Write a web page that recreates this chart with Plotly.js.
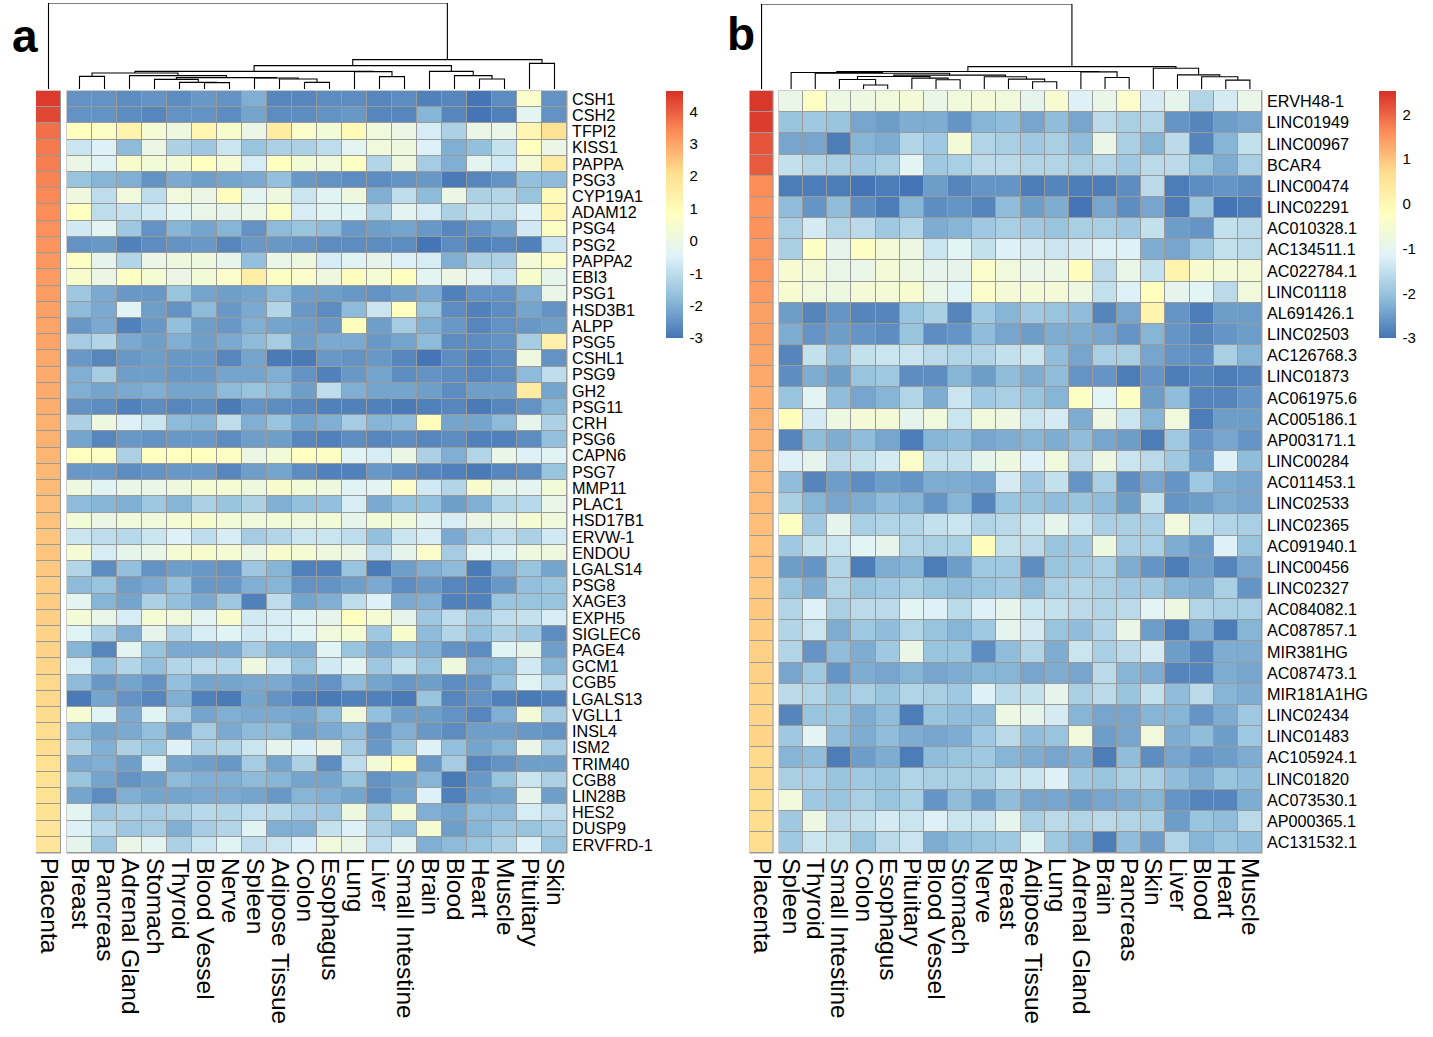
<!DOCTYPE html>
<html><head><meta charset="utf-8">
<script src="https://cdn.plot.ly/plotly-3.0.1.min.js"></script>
<style>html,body{margin:0;padding:0;background:#fff}#chart{width:1433px;height:1037px}</style>
</head><body><div id="chart"></div>
<script>
// ---------------- DATA ----------------
const tissuesA = ['Breast','Pancreas','Adrenal Gland','Stomach','Thyroid','Blood Vessel','Nerve','Spleen','Adipose Tissue','Colon','Esophagus','Lung','Liver','Small Intestine','Brain','Blood','Heart','Muscle','Pituitary','Skin'];
const genesA = ['CSH1','CSH2','TFPI2','KISS1','PAPPA','PSG3','CYP19A1','ADAM12','PSG4','PSG2','PAPPA2','EBI3','PSG1','HSD3B1','ALPP','PSG5','CSHL1','PSG9','GH2','PSG11','CRH','PSG6','CAPN6','PSG7','MMP11','PLAC1','HSD17B1','ERVW-1','ENDOU','LGALS14','PSG8','XAGE3','EXPH5','SIGLEC6','PAGE4','GCM1','CGB5','LGALS13','VGLL1','INSL4','ISM2','TRIM40','CGB8','LIN28B','HES2','DUSP9','ERVFRD-1'];
const placentaA = [4.5,4.3,3.75,3.6,3.55,3.5,3.4,3.35,3.3,3.25,3.2,3.15,3.1,3.05,3.0,3.0,2.95,2.9,2.9,2.85,2.8,2.8,2.75,2.7,2.65,2.6,2.55,2.5,2.5,2.45,2.4,2.4,2.35,2.3,2.3,2.25,2.2,2.2,2.15,2.1,2.1,2.05,2.0,2.0,1.95,1.9,1.9];
const valuesA = [
[-2.5,-2.5,-2.6,-2.5,-2.6,-2.4,-2.5,-2.0,-2.7,-2.7,-2.6,-2.6,-2.7,-2.6,-2.8,-2.7,-3.0,-2.6,0.6,-2.5],
[-2.5,-2.5,-2.6,-2.7,-2.5,-2.5,-2.6,-2.2,-2.6,-2.6,-2.5,-2.4,-2.7,-2.7,-1.9,-2.7,-3.0,-2.8,-0.3,-2.5],
[0.8,0.7,1.3,0.4,0.1,1.2,0.5,0.0,1.6,0.6,0.3,1.0,0.2,0.0,-0.6,-1.3,0.0,-0.1,1.2,2.0],
[-0.8,-0.5,-1.8,0.0,-1.3,-1.5,-0.8,-1.6,-1.3,-1.3,-1.0,-0.3,0.2,0.1,-0.5,-2.0,-1.7,-0.9,0.8,0.0],
[0.0,-0.4,0.5,0.3,0.3,0.8,0.4,-0.6,0.8,0.3,0.2,0.7,-1.2,0.1,-1.4,-2.0,-0.3,-0.7,0.3,1.6],
[-1.6,-1.9,-2.0,-2.5,-2.1,-2.3,-2.2,-2.1,-1.7,-2.4,-2.5,-2.6,-2.6,-2.5,-2.4,-2.9,-2.7,-2.5,-1.7,-1.8],
[0.1,-1.0,0.2,-1.0,0.2,0.0,0.9,-0.3,0.1,-0.8,-0.4,0.1,-2.0,-1.0,-1.8,0.0,-1.3,-1.2,-1.6,1.0],
[0.8,-1.0,-0.9,-0.7,-0.3,-0.1,-0.2,-0.1,0.7,-0.6,-0.4,-0.4,-1.3,-0.3,-0.6,-1.3,-0.9,-1.0,-0.5,1.2],
[-0.7,-0.3,-1.5,-2.5,-1.9,-2.2,-1.9,-2.5,-1.8,-1.6,-1.8,-2.4,-2.3,-2.2,-2.4,-2.7,-2.5,-2.2,-0.7,0.7],
[-2.5,-2.4,-2.8,-2.6,-2.5,-2.4,-2.7,-2.4,-2.4,-2.5,-2.6,-2.6,-2.6,-2.6,-3.0,-2.6,-2.8,-2.7,-2.8,-0.8],
[0.7,-0.2,-1.2,0.0,0.1,0.1,-0.2,-1.7,-0.1,0.1,-0.6,-0.4,-0.2,-0.5,-0.6,-2.0,-1.3,-1.3,0.3,0.6],
[0.5,0.0,0.7,0.4,0.0,0.3,0.6,1.5,0.7,0.6,0.1,0.9,0.4,0.8,-0.3,0.0,-0.3,-0.8,0.5,-0.2],
[-1.5,-2.1,-2.4,-2.4,-1.6,-2.2,-2.3,-2.2,-1.8,-2.3,-2.3,-2.4,-2.5,-2.3,-2.1,-2.8,-2.5,-2.5,-2.0,-0.1],
[-1.8,-2.1,-0.4,-2.3,-2.5,-1.8,-2.4,-2.1,-1.2,-2.4,-2.6,-1.8,-0.8,0.8,-1.6,-2.6,-2.8,-2.6,-2.2,-2.5],
[-2.4,-2.1,-2.8,-2.4,-1.7,-2.3,-2.4,-2.0,-2.2,-2.3,-2.4,0.9,-2.3,-1.4,-2.0,-2.4,-2.7,-2.5,-2.4,-2.3],
[-1.4,-1.2,-2.1,-2.3,-2.0,-2.3,-2.1,-1.8,-1.4,-2.3,-2.1,-2.1,-2.4,-2.2,-1.8,-2.6,-2.6,-2.5,-1.4,1.4],
[-2.4,-2.7,-2.4,-2.3,-2.4,-2.4,-2.7,-2.2,-2.9,-2.9,-2.4,-2.5,-2.4,-2.7,-3.0,-2.6,-2.8,-2.6,0.1,-2.5],
[-2.0,-1.4,-2.3,-2.3,-2.4,-2.4,-2.2,-2.2,-2.0,-2.5,-2.8,-2.4,-2.2,-2.6,-2.5,-2.6,-2.7,-2.6,-1.8,-1.0],
[-2.0,-2.2,-2.1,-2.0,-2.2,-2.2,-1.8,-1.6,-1.8,-2.3,-1.0,-2.0,-2.2,-2.2,-2.3,-2.6,-2.3,-2.3,1.6,-2.2],
[-2.5,-2.6,-2.8,-2.6,-2.7,-2.6,-2.9,-2.5,-2.6,-2.7,-2.8,-2.8,-2.8,-2.9,-2.8,-2.7,-2.9,-2.7,-2.5,-1.9],
[-1.3,0.1,-0.5,-0.8,-1.8,-1.9,-1.0,-2.0,-1.6,-2.2,-2.0,-1.4,-1.9,-1.8,0.9,-2.2,-2.2,-1.8,-0.2,-1.3],
[-2.2,-2.7,-2.4,-2.5,-2.4,-2.4,-2.6,-2.3,-2.3,-2.7,-2.8,-2.6,-2.7,-2.6,-2.7,-2.6,-2.8,-2.8,-2.6,-1.7],
[0.8,0.7,-1.3,0.8,0.8,0.8,0.7,0.0,0.3,0.8,0.7,-0.4,-0.6,0.0,-1.3,-2.0,-1.2,-0.1,-0.5,-0.4],
[-2.4,-2.4,-2.6,-2.5,-2.4,-2.4,-2.7,-2.3,-2.2,-2.6,-2.8,-2.8,-2.4,-2.6,-2.7,-2.8,-2.9,-2.7,-2.6,-1.6],
[0.1,-0.4,-0.1,-0.1,0.1,0.4,0.4,0.1,0.5,0.3,0.1,-0.4,-0.3,0.6,-0.7,-1.2,0.5,-0.2,-0.3,0.3],
[-1.8,-1.9,-2.0,-1.5,-1.9,-1.3,-1.6,-1.3,-2.0,-1.7,-1.7,-0.6,-2.1,-1.7,-1.7,-2.3,-2.0,-1.2,-1.1,-0.1],
[0.3,0.0,0.2,0.2,0.4,0.5,0.3,0.2,0.3,0.2,0.3,-0.2,0.3,0.2,-0.3,-0.6,0.0,0.0,0.4,0.2],
[-0.8,-1.0,-1.1,-0.8,-0.5,-1.0,-0.6,-1.4,-1.2,-0.8,-0.8,-1.0,-1.7,-0.8,-0.6,-2.1,-1.4,-1.0,-1.3,-0.7],
[0.4,-0.6,-0.2,-0.1,0.4,0.5,0.4,0.0,0.5,0.4,0.1,0.0,-1.0,-0.2,0.6,-1.4,-0.3,-0.4,0.1,0.1],
[-1.2,-2.6,-1.7,-2.5,-2.3,-2.4,-2.5,-1.5,-1.9,-2.8,-2.8,-1.6,-2.9,-2.3,-2.0,-1.8,-2.9,-2.0,-1.6,-2.2],
[-1.8,-1.6,-2.3,-2.1,-1.7,-2.4,-2.4,-2.0,-1.9,-2.5,-2.5,-2.3,-2.1,-2.6,-2.4,-2.7,-2.8,-2.4,-1.7,-1.6],
[-0.3,-1.9,-2.2,-1.3,-1.7,-2.1,-1.5,-2.8,-1.0,-2.2,-2.0,-1.0,-0.5,-2.1,-2.0,-2.8,-2.8,-1.6,-1.6,-1.6],
[0.3,-0.1,-0.6,0.4,0.2,-0.3,0.5,-0.7,-0.6,-0.4,-0.2,0.8,0.4,-0.2,-1.5,-1.0,-1.5,-1.0,-0.9,-0.6],
[-0.4,-1.3,-2.0,-0.2,-1.2,-0.6,-0.4,-0.7,-0.6,-0.4,0.2,0.4,-1.5,0.5,-1.8,-1.2,-1.7,-1.3,-1.5,-2.6],
[-1.9,-2.7,-0.3,-1.6,-2.1,-2.1,-2.1,-1.4,-1.9,-2.0,-0.4,-1.6,-2.1,-1.8,-2.0,-2.5,-2.6,-0.4,-0.2,-2.3],
[-0.6,-1.7,-1.2,-1.7,-1.2,-1.0,-1.1,0.1,-0.7,-1.6,-0.7,-0.3,-1.5,-0.9,-1.6,0.1,-2.0,-1.9,-0.7,-1.9],
[-1.8,-2.4,-2.2,-2.5,-1.7,-2.2,-2.2,-2.1,-2.1,-2.4,-2.5,-1.8,-2.2,-2.4,-2.3,-2.6,-2.5,-1.7,-0.4,-1.1],
[-2.9,-2.2,-2.5,-2.7,-2.0,-2.8,-2.9,-2.2,-2.5,-2.8,-2.9,-2.8,-2.8,-2.9,-1.6,-2.7,-2.5,-2.8,-2.9,-2.8],
[0.4,-0.4,-2.1,-0.4,-1.4,-2.2,-2.0,-2.1,-2.1,-2.2,-1.8,0.2,-1.7,-2.3,-2.3,-2.5,-2.7,-2.0,0.3,-1.4],
[-1.8,-2.2,-2.1,-1.7,-2.3,-1.4,-2.1,-1.8,-1.8,-2.3,-2.1,-1.8,-2.5,-2.0,-2.4,-2.6,-2.3,-2.3,-2.4,-2.5],
[-1.3,-2.0,-1.3,-1.6,-0.5,-1.3,-1.2,-0.8,-0.2,-0.5,0.0,-1.4,-2.4,-1.6,-0.5,-1.7,-2.2,-1.9,-0.1,-1.4],
[-2.1,-2.0,-2.3,-0.5,-2.2,-2.3,-2.4,-1.4,-2.2,-1.3,-2.6,-1.0,0.3,0.9,-2.4,-1.4,-2.7,-2.5,-2.3,-2.3],
[-1.6,-2.2,-2.5,-2.3,-1.8,-2.0,-2.0,-1.8,-1.9,-2.2,-2.2,-1.6,-2.5,-2.3,-1.9,-2.9,-2.4,-1.6,-0.8,-1.3],
[-2.2,-2.6,-2.0,-2.2,-2.2,-2.1,-2.1,-2.2,-2.4,-1.9,-2.0,-2.2,-2.6,-2.2,-0.5,-2.8,-2.3,-2.2,-0.2,-2.3],
[-0.3,-1.5,-1.3,-1.4,-1.3,-1.1,-1.2,-1.0,-1.1,-1.4,-1.5,0.1,-1.5,0.3,-2.0,-2.2,-1.8,-1.8,-0.6,-1.0],
[-0.5,-1.1,-1.5,-1.4,-2.0,-1.4,-1.2,-0.4,-2.0,-2.0,-0.9,-0.5,-1.3,-1.8,0.4,-2.3,-1.9,-1.5,-1.6,-1.4],
[-0.2,-1.5,-0.1,-0.3,-1.3,-0.8,-0.4,-1.0,-0.8,-0.5,0.2,-0.1,-1.0,-0.3,-2.0,-1.8,-1.6,-1.3,-0.5,-1.6]
];
// dendrogram of panel a: [left, right, height]; strings are leaves, numbers refer to earlier merges
const dendroA = [
['Blood Vessel','Nerve',19],['Thyroid',0,20],['Stomach',1,29],['Colon','Esophagus',20],['Adipose Tissue',3,30],
['Spleen',4,33],[2,5,34],['Adrenal Gland',6,40],['Breast','Pancreas',38],[8,7,48],
['Liver','Small Intestine',37],['Lung',10,52],[9,11,53],['Heart','Muscle',30],['Blood',13,40],
['Brain',14,53],[12,15,70],['Pituitary','Skin',77],[16,17,88],['Placenta',18,258]
];

const tissuesB = ['Spleen','Thyroid','Small Intestine','Colon','Esophagus','Pituitary','Blood Vessel','Stomach','Nerve','Breast','Adipose Tissue','Lung','Adrenal Gland','Brain','Pancreas','Skin','Liver','Blood','Heart','Muscle'];
const genesB = ['ERVH48-1','LINC01949','LINC00967','BCAR4','LINC00474','LINC02291','AC010328.1','AC134511.1','AC022784.1','LINC01118','AL691426.1','LINC02503','AC126768.3','LINC01873','AC061975.6','AC005186.1','AP003171.1','LINC00284','AC011453.1','LINC02533','LINC02365','AC091940.1','LINC00456','LINC02327','AC084082.1','AC087857.1','MIR381HG','AC087473.1','MIR181A1HG','LINC02434','LINC01483','AC105924.1','LINC01820','AC073530.1','AP000365.1','AC131532.1'];
const placentaB = [2.45,2.4,2.15,2.1,1.6,1.55,1.55,1.5,1.5,1.45,1.4,1.4,1.35,1.3,1.25,1.2,1.2,1.15,1.1,1.1,1.05,1.0,1.0,0.95,0.95,0.9,0.85,0.85,0.8,0.8,0.8,0.75,0.75,0.7,0.7,0.7];
const valuesB = [
[-0.9,-0.3,-0.8,-0.8,-0.7,-0.6,-0.9,-0.7,-0.6,-0.7,-1.0,-0.5,-1.2,-0.9,-0.4,-1.3,-1.0,-1.7,-1.3,-0.9],
[-2.0,-1.9,-2.0,-2.4,-2.5,-2.3,-2.3,-2.6,-2.2,-2.1,-2.4,-2.1,-2.4,-1.6,-1.8,-1.7,-2.6,-2.8,-2.5,-2.4],
[-2.4,-2.4,-2.9,-2.2,-2.3,-1.7,-1.9,-0.6,-1.7,-1.8,-1.9,-1.8,-2.1,-0.9,-1.8,-2.2,-1.6,-2.8,-2.2,-1.5],
[-1.5,-1.7,-1.8,-1.9,-1.8,-1.1,-1.9,-1.8,-1.6,-1.6,-1.7,-1.7,-1.8,-1.7,-1.9,-1.6,-1.6,-2.0,-2.3,-1.8],
[-2.9,-2.9,-2.9,-3.0,-2.9,-3.0,-2.5,-2.8,-2.6,-2.6,-2.9,-2.8,-2.9,-2.9,-2.7,-1.6,-2.9,-2.7,-2.6,-2.7],
[-2.1,-2.6,-2.1,-2.7,-2.9,-2.2,-2.7,-2.6,-2.8,-2.1,-2.5,-2.3,-3.0,-2.4,-2.7,-2.4,-2.9,-2.0,-3.0,-2.9],
[-1.8,-1.3,-1.7,-1.6,-1.9,-1.7,-2.3,-2.2,-1.9,-1.8,-1.9,-2.0,-1.8,-1.8,-1.9,-1.5,-2.5,-2.6,-1.5,-1.6],
[-1.8,-0.3,-1.0,-0.3,-0.6,-0.8,-1.4,-1.1,-1.5,-1.2,-1.3,-1.4,-1.3,-1.2,-1.2,-2.3,-2.4,-1.9,-1.5,-1.6],
[-0.5,-0.6,-0.9,-0.9,-0.6,-0.8,-1.0,-1.0,-0.4,-0.7,-0.9,-0.8,-0.2,-1.6,-0.9,-1.5,0.1,-0.5,-0.6,-0.6],
[-0.5,-0.7,-0.8,-0.6,-0.6,-0.5,-0.9,-1.1,-0.4,-0.6,-0.6,-0.6,-0.8,-1.5,-1.2,-0.2,-1.0,-1.1,-1.6,-0.7],
[-2.5,-2.8,-2.6,-2.8,-2.8,-2.0,-1.8,-2.8,-1.9,-2.2,-1.9,-2.0,-2.1,-2.8,-2.4,0.1,-2.6,-2.9,-2.5,-2.5],
[-2.3,-2.6,-2.5,-2.6,-2.7,-2.0,-2.7,-2.6,-2.1,-2.4,-2.5,-2.3,-2.3,-2.4,-2.6,-2.2,-2.6,-2.8,-2.6,-2.5],
[-2.8,-1.5,-2.1,-1.5,-1.4,-1.4,-1.6,-1.7,-1.7,-1.5,-1.4,-2.1,-2.4,-1.8,-1.8,-2.4,-2.6,-2.7,-1.8,-2.2],
[-2.7,-2.3,-2.5,-2.0,-1.9,-2.7,-2.7,-2.2,-2.5,-2.1,-2.3,-2.1,-2.6,-2.6,-2.9,-2.6,-2.9,-2.8,-2.9,-2.8],
[-2.0,-1.1,-2.1,-2.4,-2.2,-1.7,-2.3,-1.4,-1.9,-1.8,-2.0,-2.2,-0.3,-1.1,-0.3,-2.5,-2.1,-2.8,-2.8,-2.6],
[-0.2,-1.3,-0.8,-0.6,-0.6,-1.0,-0.7,-1.4,-0.7,-0.8,-1.4,-1.3,-2.3,-0.8,-1.4,-2.2,-0.7,-2.9,-2.5,-2.5],
[-2.8,-2.1,-2.3,-2.1,-2.4,-2.9,-2.2,-2.1,-2.4,-2.3,-2.2,-2.3,-2.1,-2.4,-2.5,-2.9,-1.9,-2.6,-2.4,-2.6],
[-1.2,-1.0,-1.6,-1.5,-1.3,-0.4,-1.5,-1.5,-1.0,-0.8,-1.2,-0.7,-1.6,-0.8,-1.4,-1.6,-1.9,-2.5,-1.2,-2.1],
[-2.1,-2.8,-2.5,-2.7,-2.5,-2.6,-2.3,-2.3,-2.4,-1.3,-1.9,-1.5,-2.6,-1.8,-2.7,-2.4,-2.6,-1.9,-2.3,-2.4],
[-1.8,-2.2,-2.4,-2.3,-2.1,-2.2,-2.6,-2.2,-2.8,-2.0,-2.0,-2.1,-2.0,-2.1,-2.5,-1.5,-2.6,-2.5,-2.3,-2.4],
[-0.3,-1.9,-1.0,-1.8,-1.7,-1.7,-1.5,-1.4,-1.7,-1.6,-1.4,-1.0,-1.4,-1.8,-1.8,-1.8,-0.7,-1.5,-1.7,-1.8],
[-1.9,-1.5,-1.4,-1.1,-1.0,-1.7,-1.8,-1.8,-0.2,-1.5,-1.6,-2.0,-1.9,-0.8,-1.8,-1.8,-2.3,-2.5,-1.2,-2.0],
[-2.5,-2.6,-1.7,-2.9,-2.3,-2.2,-2.9,-2.5,-1.9,-1.9,-2.7,-2.0,-1.9,-1.8,-2.3,-2.6,-2.9,-2.5,-2.8,-2.4],
[-2.0,-2.3,-1.7,-2.0,-1.9,-1.8,-2.0,-2.1,-2.0,-1.9,-2.2,-1.8,-1.7,-1.8,-1.9,-1.9,-2.2,-2.3,-1.8,-2.6],
[-1.7,-1.2,-1.8,-1.6,-1.6,-1.1,-1.2,-1.6,-1.2,-1.0,-1.4,-1.5,-1.6,-1.7,-1.6,-1.1,-0.8,-1.7,-1.8,-1.8],
[-1.7,-1.4,-2.3,-1.9,-2.1,-1.7,-2.0,-2.2,-1.9,-1.0,-1.3,-2.0,-2.1,-1.7,-0.9,-2.5,-2.9,-2.3,-2.9,-2.2],
[-1.7,-2.6,-2.1,-2.3,-1.9,-0.9,-2.0,-2.0,-2.7,-2.1,-1.7,-2.3,-1.4,-1.8,-1.6,-1.3,-2.5,-2.8,-2.3,-2.3],
[-2.4,-1.9,-2.6,-2.3,-2.4,-2.2,-2.4,-2.3,-2.2,-2.2,-2.4,-2.3,-2.4,-1.6,-2.2,-2.3,-2.8,-2.8,-2.3,-2.4],
[-1.6,-1.7,-2.0,-1.8,-2.0,-1.7,-1.8,-1.9,-1.2,-1.6,-1.5,-1.0,-1.8,-1.6,-2.0,-1.5,-2.1,-1.6,-2.2,-2.3],
[-2.8,-2.0,-2.0,-2.3,-2.1,-2.9,-2.0,-2.1,-2.1,-0.8,-1.0,-1.3,-2.2,-2.4,-2.4,-2.2,-2.2,-2.6,-2.3,-1.9],
[-1.9,-1.1,-2.1,-2.3,-2.1,-2.3,-2.4,-2.3,-1.9,-1.6,-2.1,-2.0,-0.7,-2.5,-2.4,-0.7,-2.3,-2.1,-2.5,-1.9],
[-2.2,-2.1,-2.9,-2.5,-2.3,-2.9,-2.1,-2.0,-1.9,-2.2,-2.3,-2.4,-2.3,-2.9,-2.1,-2.7,-2.4,-2.6,-2.5,-2.3],
[-1.8,-1.8,-2.0,-1.9,-2.0,-1.7,-1.8,-1.8,-1.8,-1.5,-1.4,-1.2,-1.9,-2.0,-1.8,-1.8,-2.1,-2.3,-2.0,-2.1],
[-0.7,-1.9,-2.0,-1.8,-2.0,-1.8,-2.6,-2.1,-2.5,-2.1,-2.4,-2.4,-2.5,-2.4,-2.3,-2.2,-2.6,-2.8,-2.8,-2.3],
[-1.9,-0.8,-1.6,-1.5,-1.3,-1.4,-1.2,-1.4,-1.4,-1.0,-1.8,-1.6,-1.7,-1.6,-1.7,-1.8,-2.5,-2.0,-2.1,-1.6],
[-1.9,-1.4,-1.5,-2.0,-1.6,-1.4,-2.3,-2.1,-2.0,-1.9,-1.1,-1.9,-2.2,-2.9,-2.1,-2.5,-1.7,-2.2,-2.0,-2.1]
];
const dendroB = [
['Colon','Esophagus',12],['Small Intestine',0,29],['Blood Vessel','Stomach',28],['Pituitary',2,33],[1,3,38],
['Adipose Tissue','Lung',22],['Breast',5,30],['Nerve',6,37],[4,7,42],['Thyroid',8,48],
['Spleen',9,50],['Brain','Pancreas',35],['Adrenal Gland',11,52],[10,12,53],['Heart','Muscle',27],
['Blood',14,37],['Liver',15,43],['Skin',16,63],[13,17,68],['Placenta',18,258]
];
const ticksA = [-3,-2,-1,0,1,2,3,4];
const ticksB = [-3,-2,-1,0,1,2];

// ---------------- STYLE / LAYOUT ----------------
const W = 1433, H = 1037;
const FONT = 'Liberation Sans, Arial, Helvetica, sans-serif';
const px = x => x / W, py = y => 1 - y / H;
const scale = [[0,'#4575B4'],[1/6,'#91BFDB'],[2/6,'#E0F3F8'],[3/6,'#FFFFBF'],[4/6,'#FEE090'],[5/6,'#FC8D59'],[1,'#D73027']];
const TOP = 91, BOT = 853;

function dendro(merges, leafPos){
  const nx = [], nh = [], xs = [], ys = [];
  const info = c => typeof c === 'string' ? [leafPos[c], 0] : [nx[c], nh[c]];
  merges.forEach((m, i) => {
    const [xl, hl] = info(m[0]), [xr, hr] = info(m[1]), h = m[2];
    xs.push(xl, xl, xr, xr, null); ys.push(hl, h, h, hr, null);
    nx[i] = (xl + xr) / 2; nh[i] = h;
  });
  return {xs, ys};
}

// panel geometry (pixels)
const G = {
  a: {pl: [36, 61], main: [67, 567], dTop: 3, cb: 666},
  b: {pl: [749.5, 773.6], main: [779, 1262], dTop: 4, cb: 1379}
};
function leafPositions(tissues, g){
  const cw = (g.main[1] - g.main[0]) / tissues.length;
  const gap = (g.main[0] - g.pl[1]) / cw;
  const pos = {'Placenta': 0};
  tissues.forEach((t, i) => pos[t] = 1 + gap + i);
  return {pos, hi: 0.5 + gap + tissues.length};
}

const traces = [];
const layout = {
  width: W, height: H, margin: {l:0, r:0, t:0, b:0},
  paper_bgcolor: '#fff', plot_bgcolor: '#fff', showlegend: false,
  font: {family: FONT, color: '#000'},
  shapes: [], annotations: []
};

function panel(key, idx, tissues, genes, placenta, values, merges, ticks, cmax, label, labelX, labelY){
  const g = G[key];
  const ax = n => (n === 1 ? '' : String(n));
  const i1 = idx, i2 = idx + 1, i3 = idx + 2;
  const ca = key === 'a' ? 'coloraxis' : 'coloraxis2';
  traces.push({type:'heatmap', x:['Placenta'], y:genes, z:placenta.map(v => [v]), coloraxis:ca,
    xaxis:'x'+ax(i1), yaxis:'y'+ax(i1), xgap:1, ygap:1, hoverinfo:'skip'});
  traces.push({type:'heatmap', x:tissues, y:genes, z:values, coloraxis:ca,
    xaxis:'x'+ax(i2), yaxis:'y'+ax(i2), xgap:1, ygap:1, hoverinfo:'skip'});
  const lp = leafPositions(tissues, g);
  const d = dendro(merges, lp.pos);
  traces.push({type:'scatter', mode:'lines', x:d.xs, y:d.ys, xaxis:'x'+ax(i3), yaxis:'y'+ax(i3),
    line:{color:'#000', width:1.1}, hoverinfo:'skip', connectgaps:false});
  const yd = [py(BOT), py(TOP)];
  const common = {showgrid:false, zeroline:false, showline:false, ticks:'', automargin:false, fixedrange:true};
  const tickX = {...common, side:'bottom', tickangle:90, ticklabelstandoff:4,
    tickfont:{size:24.5, family:FONT, color:'#000'}};
  layout['xaxis'+ax(i1)] = {...tickX, domain:[px(g.pl[0]), px(g.pl[1])], anchor:'y'+ax(i1),
    tickmode:'array', tickvals:['Placenta'], ticktext:['Placenta']};
  layout['yaxis'+ax(i1)] = {...common, domain:yd, anchor:'x'+ax(i1), autorange:'reversed', showticklabels:false};
  layout['xaxis'+ax(i2)] = {...tickX, domain:[px(g.main[0]), px(g.main[1])], anchor:'y'+ax(i2),
    tickmode:'array', tickvals:tissues, ticktext:tissues};
  layout['yaxis'+ax(i2)] = {...common, domain:yd, anchor:'x'+ax(i2), autorange:'reversed', side:'right',
    tickmode:'array', tickvals:genes, ticktext:genes, ticklabelstandoff:4,
    tickfont:{size:16.2, family:FONT, color:'#000'}};
  layout['xaxis'+ax(i3)] = {...common, domain:[px(g.pl[0]), px(g.main[1])], anchor:'y'+ax(i3),
    range:[-0.5, lp.hi], showticklabels:false};
  layout['yaxis'+ax(i3)] = {...common, domain:[py(TOP - 2), py(g.dTop)], anchor:'x'+ax(i3),
    range:[0, merges[merges.length-1][2]], showticklabels:false};
  // grey cell borders behind heatmaps
  [i1, i2].forEach(i => layout.shapes.push({type:'rect', layer:'below', xref:'x'+ax(i)+' domain', yref:'y'+ax(i)+' domain',
    x0:-0.001, x1:1.001, y0:-0.0008, y1:1.0008, fillcolor:'#9a9a9a', line:{width:0}}));
  layout[ca] = {cmin:-3.0, cmax:cmax, colorscale:scale,
    colorbar:{x:px(g.cb), xanchor:'left', xref:'paper', y:py(TOP), yanchor:'top', yref:'paper',
      len:247, lenmode:'pixels', thickness:17, thicknessmode:'pixels', outlinewidth:0,
      tickvals:ticks, ticktext:ticks.map(String), ticks:'outside', ticklen:4, tickcolor:'rgba(0,0,0,0)',
      xpad:0, ypad:0, tickfont:{size:15, family:FONT, color:'#000'}}};
  layout.annotations.push({text:'<b>'+label+'</b>', xref:'paper', yref:'paper', x:px(labelX), y:py(labelY),
    xanchor:'center', yanchor:'middle', showarrow:false, font:{size:46, family:FONT, color:'#000'}});
}

panel('a', 1, tissuesA, genesA, placentaA, valuesA, dendroA, ticksA, 4.63, 'a', 25, 36);
panel('b', 4, tissuesB, genesB, placentaB, valuesB, dendroB, ticksB, 2.52, 'b', 741, 34);

Plotly.newPlot('chart', traces, layout, {staticPlot:true, displayModeBar:false});
</script></body></html>
